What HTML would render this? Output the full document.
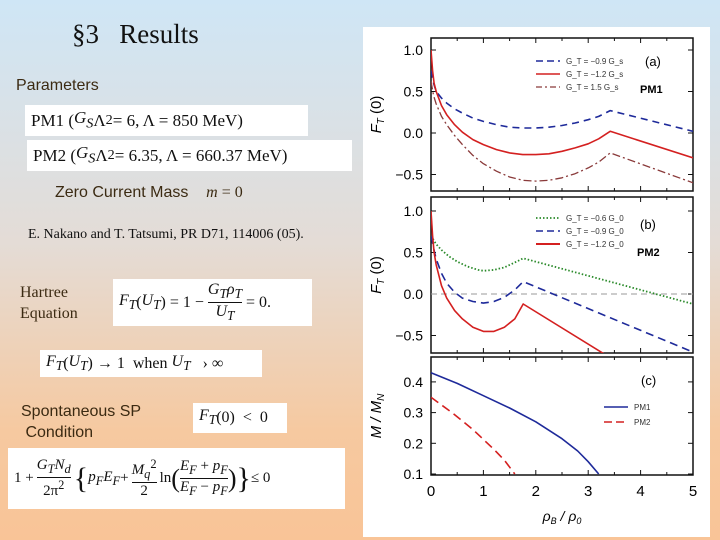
<!DOCTYPE html>
<html><head><meta charset="utf-8"><style>
body{margin:0;width:720px;height:540px;overflow:hidden;position:relative;
background:linear-gradient(180deg,#cfe6f6 0%,#e4dcd6 45%,#f6c9a0 80%,#f9c497 100%);
font-family:"Liberation Sans",sans-serif;color:#3b2a12}
.a{position:absolute;white-space:nowrap}
.box{position:absolute;background:#fff;font-family:"Liberation Serif",serif;color:#111;display:flex;align-items:center;white-space:nowrap;font-size:17px;padding-left:6px;box-sizing:border-box}
.serif{font-family:"Liberation Serif",serif}
i{font-style:italic}
</style></head><body>
<div class="a serif" style="left:72px;top:19px;font-size:27px;color:#111">§3&nbsp;&nbsp;&nbsp;Results</div>
<div class="a" style="left:16px;top:77px;font-size:16px">Parameters</div>
<div class="box" style="left:25px;top:105px;width:283px;height:31px">PM1&nbsp;(<i>G<sub>S</sub></i>Λ<sup>2</sup> = 6, Λ = 850 MeV)</div>
<div class="box" style="left:27px;top:140px;width:325px;height:31px">PM2&nbsp;(<i>G<sub>S</sub></i>Λ<sup>2</sup> = 6.35, Λ = 660.37 MeV)</div>
<div class="a" style="left:55px;top:184px;font-size:16px">Zero Current Mass&nbsp;&nbsp;&nbsp;&nbsp;<span class="serif"><i>m</i> = 0</span></div>
<div class="a serif" style="left:28px;top:227px;font-size:14px;color:#111">E. Nakano and T. Tatsumi, PR D71, 114006 (05).</div>
<div class="a serif" style="left:20px;top:282px;font-size:16px;line-height:21px">Hartree<br>Equation</div>
<div class="box" style="left:113px;top:279px;width:199px;height:47px;font-size:16px"><i>F<sub>T</sub></i>(<i>U<sub>T</sub></i>) = 1 − <span style="display:inline-block;text-align:center;vertical-align:middle;margin:0 4px"><span style="display:block;border-bottom:1px solid #111"><i>G<sub>T</sub>ρ<sub>T</sub></i></span><i>U<sub>T</sub></i></span> = 0.</div>
<div class="box" style="left:40px;top:350px;width:222px;height:27px;font-size:16px"><i>F<sub>T</sub></i>(<i>U<sub>T</sub></i>) → 1&nbsp;&nbsp;when&nbsp;<i>U<sub>T</sub></i>&nbsp;&nbsp;&nbsp;› ∞</div>
<div class="a" style="left:21px;top:401px;font-size:16px;line-height:21px">Spontaneous SP<br>&nbsp;Condition</div>
<div class="box" style="left:193px;top:403px;width:94px;height:30px;font-size:16px"><i>F<sub>T</sub></i>(0)&nbsp;&nbsp;&lt;&nbsp;&nbsp;0</div>
<div class="box" style="left:8px;top:448px;width:337px;height:61px;font-size:15px">1 + <span style="display:inline-block;text-align:center;vertical-align:middle;margin:0 3px"><span style="display:block;border-bottom:1px solid #111"><i>G<sub>T</sub>N<sub>d</sub></i></span>2π<sup>2</sup></span><span style="font-size:30px">{</span><i>p<sub>F</sub>E<sub>F</sub></i> + <span style="display:inline-block;text-align:center;vertical-align:middle;margin:0 3px"><span style="display:block;border-bottom:1px solid #111"><i>M<sub>q</sub></i><sup>2</sup></span>2</span> ln<span style="font-size:26px">(</span><span style="display:inline-block;text-align:center;vertical-align:middle"><span style="display:block;border-bottom:1px solid #111"><i>E<sub>F</sub></i> + <i>p<sub>F</sub></i></span><i>E<sub>F</sub></i> − <i>p<sub>F</sub></i></span><span style="font-size:26px">)</span><span style="font-size:30px">}</span> ≤ 0</div>

<svg class="a" style="left:0;top:0" width="720" height="540">
<rect x="363" y="27" width="347" height="510" fill="#fff"/>
<g id="g"></g>
</svg>
<script>
const xTicks=[0,1,2,3,4,5];
const aTicks=[-0.5,0.0,0.5,1.0];
const bTicks=[-0.5,0.0,0.5,1.0];
const cTicks=[0.1,0.2,0.3,0.4];
const aBlueX=[0,0.05,0.1,0.2,0.3,0.45,0.6,0.8,1,1.25,1.5,1.75,2,2.25,2.5,2.75,3,3.2,3.42,5];
const aBlueY=[0.75,0.6,0.5,0.42,0.36,0.29,0.24,0.18,0.14,0.1,0.07,0.06,0.06,0.07,0.09,0.12,0.16,0.2,0.27,0.02];
const aRedX=[0,0.03,0.06,0.1,0.2,0.3,0.45,0.6,0.8,1,1.25,1.5,1.75,2,2.25,2.5,2.75,3,3.2,3.42,5];
const aRedY=[1.0,0.75,0.6,0.5,0.33,0.22,0.1,0.01,-0.08,-0.14,-0.2,-0.24,-0.26,-0.26,-0.25,-0.22,-0.18,-0.13,-0.07,0.02,-0.3];
const aDashDotX=[0,0.05,0.1,0.2,0.3,0.45,0.6,0.8,1,1.25,1.5,1.75,2,2.25,2.5,2.75,3,3.2,3.42,5];
const aDashDotY=[0.62,0.45,0.35,0.2,0.1,-0.03,-0.14,-0.27,-0.37,-0.46,-0.53,-0.57,-0.58,-0.57,-0.54,-0.49,-0.42,-0.35,-0.24,-0.6];
const bGreenX=[0,0.1,0.2,0.35,0.5,0.7,0.9,1,1.2,1.4,1.6,1.76,5];
const bGreenY=[0.7,0.6,0.53,0.45,0.39,0.33,0.29,0.28,0.29,0.32,0.38,0.43,-0.12];
const bBlueX=[0,0.05,0.1,0.2,0.3,0.45,0.6,0.8,1,1.2,1.4,1.6,1.76,5];
const bBlueY=[0.7,0.55,0.42,0.25,0.13,0.02,-0.05,-0.09,-0.11,-0.09,-0.04,0.05,0.15,-0.7];
const bRedX=[0,0.03,0.06,0.1,0.2,0.3,0.45,0.6,0.8,1,1.2,1.4,1.6,1.76,3.3];
const bRedY=[1.0,0.7,0.5,0.35,0.1,-0.05,-0.2,-0.3,-0.4,-0.45,-0.45,-0.4,-0.3,-0.12,-0.72];
const cBlueX=[0,0.5,1,1.5,2,2.5,2.8,3,3.2];
const cBlueY=[0.43,0.395,0.355,0.315,0.27,0.215,0.175,0.14,0.1];
const cRedX=[0,0.4,0.8,1.2,1.4,1.6];
const cRedY=[0.35,0.3,0.245,0.18,0.145,0.1];

const NS='http://www.w3.org/2000/svg';
const G=document.getElementById('g');
const X0=431,X1=693;
const xs=v=>X0+(X1-X0)*v/5;
function el(t,a,p){const e=document.createElementNS(NS,t);for(const k in a)e.setAttribute(k,a[k]);(p||G).appendChild(e);return e;}
const panels=[
 {name:'panel-a',top:38,bot:191,ys:v=>133-83*v,ticks:aTicks,fmt:v=>v===0?'0.0':v.toFixed(1).replace('-','−'),ylab:'F',sub:'T',tail:'(0)',labelX:false},
 {name:'panel-b',top:197,bot:353,ys:v=>294-83*v,ticks:bTicks,fmt:v=>v===0?'0.0':v.toFixed(1).replace('-','−'),ylab:'F',sub:'T',tail:'(0)',labelX:false},
 {name:'panel-c',top:357,bot:475,ys:v=>474-307*(v-0.1),ticks:cTicks,fmt:v=>v.toFixed(1),ylab:'M / M',sub:'N',tail:'',labelX:true}
];
panels.forEach(p=>{
 const f=el('rect',{x:X0,y:p.top,width:X1-X0,height:p.bot-p.top,fill:'none',stroke:'#111','stroke-width':1.5});
 
 
 xTicks.forEach(v=>{
  el('line',{x1:xs(v),x2:xs(v),y1:p.bot,y2:p.bot-5,stroke:'#111'});
  el('line',{x1:xs(v),x2:xs(v),y1:p.top,y2:p.top+5,stroke:'#111'});
  if(v<5){el('line',{x1:xs(v+0.5),x2:xs(v+0.5),y1:p.bot,y2:p.bot-3,stroke:'#111'});el('line',{x1:xs(v+0.5),x2:xs(v+0.5),y1:p.top,y2:p.top+3,stroke:'#111'});}
  if(p.labelX){const t=el('text',{x:xs(v),y:496,'font-size':15,'text-anchor':'middle','font-family':'Liberation Sans'});t.textContent=v;
   }
 });
 p.ticks.forEach(v=>{
  const y=p.ys(v);
  el('line',{x1:X0,x2:X0+5,y1:y,y2:y,stroke:'#111'});el('line',{x1:X1,x2:X1-5,y1:y,y2:y,stroke:'#111'});
  const t=el('text',{x:X0-8,y:y+5,'font-size':14,'text-anchor':'end','font-family':'Liberation Sans'});t.textContent=p.fmt(v);
  
 });
 const cy=(p.top+p.bot)/2;
 const yl=el('text',{x:0,y:0,'font-size':15,'text-anchor':'middle','font-family':'Liberation Sans','font-style':'italic',transform:`translate(381,${cy}) rotate(-90)`});
 yl.innerHTML=p.ylab+'<tspan font-size="10" dy="3">'+p.sub+'</tspan><tspan dy="-3" font-style="normal"> '+p.tail+'</tspan>';
 
});
const zl=el('line',{x1:X0,x2:X1,y1:294,y2:294,stroke:'#999','stroke-dasharray':'6,4'});


const BL='#1e2a9a',RD='#d42020',BR='#8a3a3a',GR='#2a8a2a';
G.insertAdjacentHTML('beforeend',`<clipPath id="ca"><rect x="431" y="38" width="262" height="153"/></clipPath><clipPath id="cb"><rect x="431" y="197" width="262" height="156"/></clipPath><clipPath id="cc"><rect x="431" y="357" width="262" height="118"/></clipPath>`);
const ga=el('g',{'clip-path':'url(#ca)'}),gb=el('g',{'clip-path':'url(#cb)'}),gc=el('g',{'clip-path':'url(#cc)'});
function lineIn(g,xa,ya,p,st,name){const d=xa.map((x,i)=>(i?'L':'M')+xs(x).toFixed(1)+','+p.ys(ya[i]).toFixed(1)).join('');
 const e=el('path',Object.assign({d:d,fill:'none','stroke-linejoin':'round'},st),g);
 
 }
lineIn(ga,aBlueX,aBlueY,panels[0],{stroke:BL,'stroke-width':1.6,'stroke-dasharray':'7,5'},'series-a-blue');
lineIn(ga,aRedX,aRedY,panels[0],{stroke:RD,'stroke-width':1.6},'series-a-red');
lineIn(ga,aDashDotX,aDashDotY,panels[0],{stroke:BR,'stroke-width':1.3,'stroke-dasharray':'8,3,2,3'},'series-a-dashdot');
lineIn(gb,bGreenX,bGreenY,panels[1],{stroke:GR,'stroke-width':1.8,'stroke-dasharray':'1.5,2'},'series-b-green');
lineIn(gb,bBlueX,bBlueY,panels[1],{stroke:BL,'stroke-width':1.6,'stroke-dasharray':'8,5'},'series-b-blue');
lineIn(gb,bRedX,bRedY,panels[1],{stroke:RD,'stroke-width':1.6},'series-b-red');
lineIn(gc,cBlueX,cBlueY,panels[2],{stroke:BL,'stroke-width':1.6},'series-c-pm1');
lineIn(gc,cRedX,cRedY,panels[2],{stroke:RD,'stroke-width':1.6,'stroke-dasharray':'9,5'},'series-c-pm2');
function leg(x,y,st,txt){el('line',Object.assign({x1:x,x2:x+24,y1:y,y2:y},st));
 const t=el('text',{x:x+30,y:y+3,'font-size':8,'font-family':'Liberation Sans',fill:'#333'});t.textContent=txt;
 }
leg(536,61,{stroke:BL,'stroke-width':1.6,'stroke-dasharray':'7,4'},'G_T = −0.9 G_s');
leg(536,74,{stroke:RD,'stroke-width':1.6},'G_T = −1.2 G_s');
leg(536,87,{stroke:BR,'stroke-width':1.3,'stroke-dasharray':'6,3,2,3'},'G_T =  1.5 G_s');
leg(536,218,{stroke:GR,'stroke-width':1.8,'stroke-dasharray':'1.5,2'},'G_T = −0.6 G_0');
leg(536,231,{stroke:BL,'stroke-width':1.6,'stroke-dasharray':'7,4'},'G_T = −0.9 G_0');
leg(536,244,{stroke:RD,'stroke-width':2}, 'G_T = −1.2 G_0');
leg(604,407,{stroke:BL,'stroke-width':1.6},'PM1');
leg(604,422,{stroke:RD,'stroke-width':1.6,'stroke-dasharray':'8,4'},'PM2');
[['(a)',645,66,13],['PM1',640,93,11],['(b)',640,229,13],['PM2',637,256,11],['(c)',641,385,13]].forEach(a=>{
 const t=el('text',{x:a[1],y:a[2],'font-size':a[3],'font-family':'Liberation Sans','font-weight':a[0].startsWith('PM')?'bold':'normal'});t.textContent=a[0];
 });
const xl=el('text',{x:562,y:521,'font-size':14,'text-anchor':'middle','font-family':'Liberation Sans','font-style':'italic'});
xl.innerHTML='ρ<tspan font-size="9" dy="3">B</tspan><tspan dy="-3"> / ρ</tspan><tspan font-size="9" dy="3">0</tspan>';


</script>
</body></html>
